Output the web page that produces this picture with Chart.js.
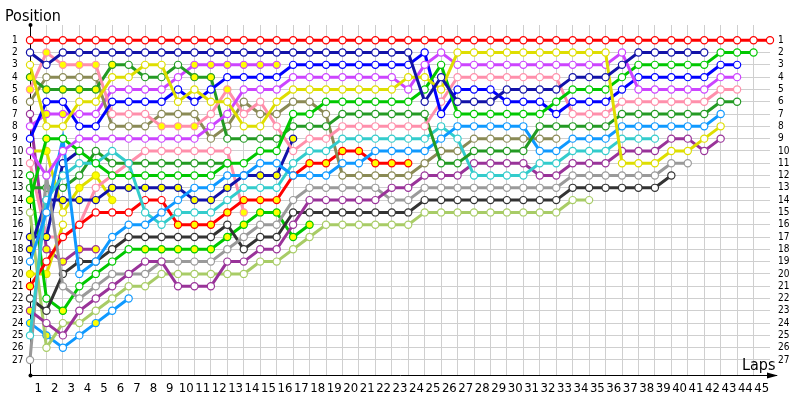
<!DOCTYPE html>
<html><head><meta charset="utf-8">
<script src="https://cdn.jsdelivr.net/npm/chart.js@4/dist/chart.umd.min.js"></script>
<style>html,body{margin:0;padding:0;background:#fff;}#wrap{width:800px;height:400px;}</style>
</head><body><div id="wrap"><canvas id="c" width="800" height="400"></canvas></div>
<script>
// ---- tick labels ----
const lapTicks = [0,1,2,3,4,5,6,7,8,9,10,11,12,13,14,15,16,17,18,19,20,21,22,23,24,25,26,27,28,29,30,31,32,33,34,35,36,37,38,39,40,41,42,43,44,45];
const positionTicks = [1,2,3,4,5,6,7,8,9,10,11,12,13,14,15,16,17,18,19,20,21,22,23,24,25,26,27];

// ---- positions per lap (index = lap number, starting at lap 0) ----
const pos_red1 = [1,1,1,1,1,1,1,1,1,1,1,1,1,1,1,1,1,1,1,1,1,1,1,1,1,1,1,1,1,1,1,1,1,1,1,1,1,1,1,1,1,1,1,1,1,1];
const pos_navy1 = [2,3,2,2,2,2,2,2,2,2,2,2,2,2,2,2,2,2,2,2,2,2,2,2,6,4,6,6,6,5,5,5,5,4,4,4,3,2,2,2,2,2];
const pos_blue1 = [9,6,6,8,8,6,6,6,6,5,6,5,4,4,4,4,3,3,3,3,3,3,3,3,2,7,5,5,5,6,6,6,7,6,6,6,5,4,4,4,4,4,3,3];
const pos_yellow1 = [3,8,8,6,6,4,4,3,3,6,5,6,6,8,8,6,5,5,5,5,5,5,5,4,4,5,2,2,2,2,2,2,2,2,2,2,11,11,11,10,10,9,8];
const pos_magenta1 = [8,7,7,7,7,5,5,5,5,4,3,3,3,3,3,3];
const pos_magenta2 = [10,12,10,9,9,9,9,9,9,9,9,8,7,5,5,5,4,4,4,4,4,4,4,5,3,2,3,3,3,3,3,3,3,3,3,3,2,5,5,5,5,5,4,4];
const pos_pink1 = [5,2,3,3,3,7,7,7,8,8,8,7,5,7,6,8,10,9,9,8,8,8,8,8,8,6,4,4,4,4,4,4,4,7,7,7,6,6,6,6,6,6,5,5];
const pos_dgreen1 = [4,5,5,5,5,3,3,4,4,3,4,4,9,9,9,9,8,8,8,7,7,7,7,7,7,11,11,10,10,10,10,8,8,8,8,8,7,7,7,7,7,7,6,6];
const pos_olive1 = [6,4,4,4,4,8,8,8,7,7,7,9,8,6,7,7,6,6,7,12,12,12,12,12,11,10,10,9,9,9,9,9,9];
const pos_bgreen1 = [14,9,9,10,11,12,12,12,12,12,12,12,11,11,10,10,7,7,6,6,6,6,6,6,5,3,7,7,7,7,7,7,6,5,5,5,4,3,3,3,3,3,2,2,2];
const pos_lblue1 = [19,15,9,20,19,17,16,16,15,14,13,13,12,12,11,11,12,12,12,11,11,10,10,10,10,9,8,8,8,8,8,10,10,9,9,9,8,8,8,8,8,8,7];
const pos_cyan1 = [25,14,12,11,11,10,11,15,16,15,15,15,14,13,13,13,11,10,10,9,9,9,9,9,9,8,9,12,12,12,12,11,11,10,10,10,9,9,9];
const pos_red2 = [21,19,17,16,15,15,15,14,14,16,16,16,15,14,14,14,12,11,11,10,10,11,11,11];
const pos_dpurple1 = [23,24,25,23,22,21,20,19,19,21,21,21,19,19,18,18,16,14,14,14,14,14,13,13,12,12,12,11,11,11,11,12,12,11,11,11,10,10,10,9,9,10,9];
const pos_gray1 = [27,12,21,22,21,20,20,20,19,19,19,19,18,17,16,16,14,13,13,13,13,13,14,14,13,13,13,13,13,13,13,13,13,12,12,12,12,12,12,11,11];
const pos_black1 = [22,23,20,19,19,18,17,17,17,17,17,17,16,18,17,17,15,15,15,15,15,15,15,15,14,14,14,14,14,14,14,14,14,13,13,13,13,13,13,12];
const pos_lgreen1 = [15,26,24,24,23,22,21,21,20,20,20,20,20,20,19,19,18,17,16,16,16,16,16,16,15,15,15,15,15,15,15,15,15,14,14];
const pos_lblue2 = [24,25,26,25,24,23,22];
const pos_dpurple2 = [7,18,19,18,18];
const pos_navy2 = [18,14,14,14,14,13,13,13,13,13,14,14,13,12,12,12,9];
const pos_navy3 = [17,17,11,10];
const pos_bgreen2 = [12,22,23,21,20,19,18,18,18,18,18,18,17,16,15,15,17,16];
const pos_dgreen2 = [13,13,13,12,10,11,11,11,11,11,11,11,11];
const pos_pink2 = [11,17,17,16,13,12,11,10,10,10,10,10,10,15];
const pos_yellow2 = [10,10,15,13,12,14];
const pos_yellow3 = [20,20,16];

// ---- laps drawn with a yellow (pit) marker ----
const pit_dgreen1 = [0,1,2,3,4,5,10,11];
const pit_pink1 = [0,1,2,3,4,8,9,10,12];
const pit_magenta1 = [1,2,10,11,12,13,14,15];
const pit_red2 = [0,9,10,11,12,13,14,15,16,17,18,19,20,21,22,23];
const pit_navy2 = [0,1,2,3,4,5,6,7,8,9,10,11,12,13,14,15,16];
const pit_navy3 = [0,1,3];
const pit_bgreen1 = [0,1];
const pit_bgreen2 = [2,7,8,9,10,11,12,13,14,15,16,17];
const pit_yellow2 = [0,1,3,4,5];
const pit_yellow3 = [0,1];
const pit_dpurple1 = [0];
const pit_dpurple2 = [1,2,3,4];
const pit_lblue2 = [0,1,4];
const pit_pink2 = [13];

const seriesData = [pos_red1,pos_navy1,pos_yellow1,pos_magenta2,pos_bgreen1,pos_blue1,pos_pink1,pos_dgreen1,pos_lblue1,pos_cyan1,pos_dpurple1,pos_gray1,pos_black1,pos_lgreen1,pos_olive1,pos_red2,pos_magenta1,pos_navy2,pos_navy3,pos_bgreen2,pos_dgreen2,pos_pink2,pos_yellow2,pos_yellow3,pos_lblue2,pos_dpurple2];
const seriesPits = [[],[],[],[],pit_bgreen1,[],pit_pink1,pit_dgreen1,[],[],pit_dpurple1,[],[],[],[],pit_red2,pit_magenta1,pit_navy2,pit_navy3,pit_bgreen2,[],pit_pink2,pit_yellow2,pit_yellow3,pit_lblue2,pit_dpurple2];
const seriesColors = ['#ff0000','#1212a8','#dede00','#cc44ff','#00c800','#0000ff','#ff8fab','#239a23','#0f99ff','#33cccc','#993399','#9a9a9a','#333333','#a8cc66','#8a8a55','#ff0000','#cc44ff','#1212a8','#1212a8','#00c800','#239a23','#ff8fab','#dede00','#dede00','#0f99ff','#993399'];

const datasets = seriesData.map((arr, k) => {
  const pts = [];
  arr.forEach((p, lap) => { if (p !== null) pts.push({x: lap, y: p}); });
  const pits = seriesPits[k];
  return {
    data: pts,
    borderColor: seriesColors[k],
    borderWidth: 3,
    pointRadius: 3.6,
    pointBorderWidth: 1.2,
    pointBorderColor: seriesColors[k],
    pointBackgroundColor: pts.map(pt => pits.includes(pt.x) ? '#ffff00' : '#ffffff'),
    tension: 0,
    clip: false
  };
});

const FONT = '"DejaVu Sans Condensed", "DejaVu Sans", sans-serif';
const decor = {
  id: 'decor',
  afterDraw(chart) {
    const c = chart.ctx, a = chart.chartArea;
    c.save();
    c.fillStyle = '#000'; c.strokeStyle = '#000'; c.lineWidth = 1;
    c.beginPath(); c.moveTo(a.right, a.bottom + 0.5); c.lineTo(a.right + 7, a.bottom + 0.5); c.stroke();
    c.beginPath(); c.moveTo(a.right + 8, a.bottom + 0.5); c.lineTo(a.right - 3, a.bottom - 2.5); c.lineTo(a.right - 3, a.bottom + 3.5); c.closePath(); c.fill();
    c.beginPath(); c.arc(a.left + 0.5, a.top, 2, 0, Math.PI * 2); c.fill();
    c.beginPath(); c.arc(a.left + 0.5, a.bottom + 0.5, 2, 0, Math.PI * 2); c.fill();
    c.font = '16px ' + FONT; c.textAlign = 'left'; c.textBaseline = 'alphabetic';
    c.fillText('Position', 5, 21);
    c.fillText('Laps', 742, 370);
    c.restore();
  }
};

const buildPosTicks = s => { s.ticks = positionTicks.map(v => ({value: v})); };

new Chart(document.getElementById('c'), {
  type: 'line',
  data: { datasets },
  options: {
    responsive: false, animation: false, devicePixelRatio: 1,
    layout: { padding: { top: 25, left: 12, right: 0, bottom: 0 } },
    plugins: { legend: { display: false }, tooltip: { enabled: false }, title: { display: false } },
    scales: {
      x: {
        type: 'linear', min: 0, max: 45, position: 'bottom',
        afterBuildTicks: s => { s.ticks = lapTicks.map(v => ({value: v})); },
        afterFit: s => { s.height = 25; },
        grid: { color: c => (c.tick && c.tick.value > 0 && c.tick.value < 45) ? '#cfcfcf' : 'rgba(0,0,0,0)', drawTicks: false, lineWidth: 1 },
        border: { display: true, color: '#000', width: 1 },
        ticks: { autoSkip: false, maxRotation: 0, minRotation: 0, labelOffset: -8.2, padding: 6, color: '#000',
          font: { family: FONT, size: 13 }, callback: v => v === 0 ? '' : String(v) }
      },
      y: {
        type: 'linear', reverse: true, min: -0.24, max: 28.22, position: 'left',
        afterBuildTicks: buildPosTicks,
        afterFit: s => { s.width = 18; },
        grid: { color: '#cfcfcf', drawTicks: false, lineWidth: 1 },
        border: { display: true, color: '#000', width: 1 },
        ticks: { autoSkip: false, crossAlign: 'far', padding: 4, color: '#000', font: { family: FONT, size: 10 } }
      },
      y2: {
        type: 'linear', reverse: true, min: -0.24, max: 28.22, position: 'right',
        afterBuildTicks: buildPosTicks,
        afterFit: s => { s.width = 30; },
        grid: { display: false, drawTicks: false },
        border: { display: false },
        ticks: { autoSkip: false, padding: 8, color: '#000', font: { family: FONT, size: 10 } }
      }
    }
  },
  plugins: [decor]
});
</script>
</body></html>
